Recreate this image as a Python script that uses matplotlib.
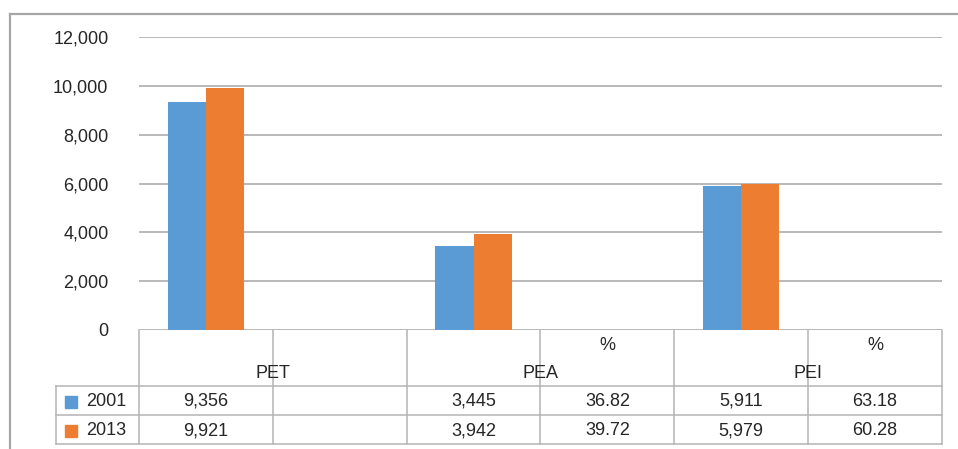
import numpy as np
import matplotlib.pyplot as plt
import matplotlib.transforms as mtrans

plt.rcParams['font.family'] = ['Liberation Sans', 'DejaVu Sans']

groups = ["PET", "PEA", "PEI"]
subcats = ["", "", "", "%", "", "%"]
years = ["2001", "2013"]
v2001 = [9356, np.nan, 3445, 36.82, 5911, 63.18]
v2013 = [9921, np.nan, 3942, 39.72, 5979, 60.28]
colors = ["#5B9BD5", "#ED7D31"]
yticks = np.arange(0, 12001, 2000)

W, H = 958, 449
fig = plt.figure(figsize=(W/100, H/100), dpi=100)
txt = "#262626"
grid = "#A6A6A6"
tline = "#B4B4B4"

# main plot area in pixels: x 139..942, y 37..330
ax = fig.add_axes([139/W, (H-330)/H, 803/W, 293/H])
x = np.arange(len(subcats))
pct = np.array([s == "%" for s in subcats])
bw = 0.285
for vals, c, k in zip([v2001, v2013], colors, [-1, 1]):
    vv = np.array(vals, dtype=float)
    # percentage columns are only shown in the table, not as bars
    ax.bar(x[~pct] + k*bw/2, np.nan_to_num(vv[~pct]), bw, color=c, zorder=3)
ax.set_xlim(-0.5, len(subcats)-0.5)
ax.set_ylim(0, 12000)
ax.set_yticks(yticks)
ax.set_yticklabels([f"{t:,}" for t in yticks], fontsize=13, color=txt)
ax.tick_params(axis='y', length=0, pad=22)
ax.set_xticks([])
ax.grid(axis='y', color=grid, linewidth=1.1, zorder=0)
for s in ax.spines.values():
    s.set_visible(False)

# overlay in pixel coords for frame and data table
ov = fig.add_axes([0, 0, 1, 1], zorder=-1)
ov.set_xlim(0, W)
ov.set_ylim(H, 0)
ov.axis('off')
ov.patch.set_alpha(0)
bl = mtrans.blended_transform_factory(ax.transData, ov.transData)

# outer chart frame
ov.plot([10, W], [14, 14], color="#A6A6A6", lw=1.6)
ov.plot([10, 10], [14, H], color="#A6A6A6", lw=1.6)

# table grid
top, hdr, r1, bot = 330, 386, 415, 444
for b in np.arange(-0.5, len(subcats), 1):
    ov.plot([b, b], [top, bot], color=tline, lw=1.1, transform=bl, clip_on=False)
for yy in [hdr, r1, bot]:
    ov.plot([56, 942], [yy, yy], color=tline, lw=1.1)
ov.plot([56, 56], [hdr, bot], color=tline, lw=1.1)

# header
for i, s in enumerate(subcats):
    ov.text(i, 346, s, ha='center', va='center', fontsize=13, color=txt, transform=bl)
for g, name in enumerate(groups):
    ov.text(2*g + 0.5, 373, name, ha='center', va='center', fontsize=13, color=txt, transform=bl)

# rows
for row, (yr, vals, c) in enumerate(zip(years, [v2001, v2013], colors)):
    yc = (hdr + r1)/2 + row*(r1 - hdr) + 1
    ov.add_patch(plt.Rectangle((65, yc-6), 12, 12, color=c))
    ov.text(86, yc, yr, ha='left', va='center', fontsize=13, color=txt)
    for i, v in enumerate(vals):
        if np.isnan(v):
            continue
        lab = f"{v:.2f}" if subcats[i] == "%" else f"{v:,.0f}"
        ov.text(i, yc, lab, ha='center', va='center', fontsize=13, color=txt, transform=bl)

fig.savefig("out.png", dpi=100)
